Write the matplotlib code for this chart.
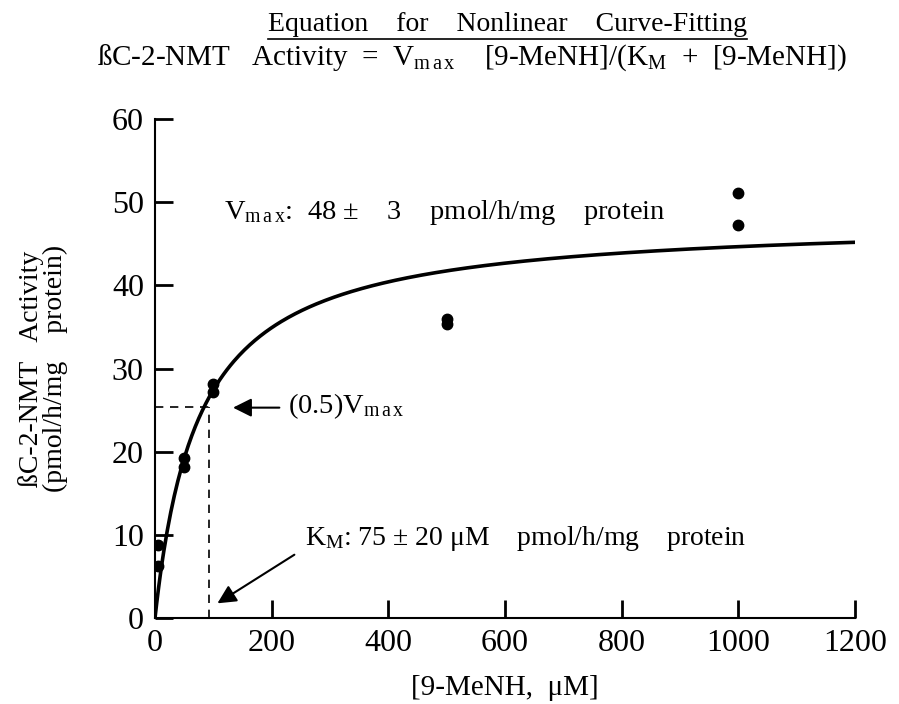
import numpy as np
import matplotlib
matplotlib.use("Agg")
import matplotlib.pyplot as plt

plt.rcParams['font.family'] = ['Liberation Serif', 'DejaVu Serif']
plt.rcParams['mathtext.fontset'] = 'custom'
plt.rcParams['mathtext.rm'] = 'Liberation Serif'
plt.rcParams['mathtext.it'] = 'Liberation Serif'

# measured points
conc = [5, 5, 50, 50, 100, 100, 500, 500, 1000, 1000]
activity = [8.8, 6.3, 19.2, 18.2, 28.2, 27.2, 36.0, 35.3, 51.1, 47.2]

# fit parameters (from the text on the chart)
vmax = 48
km = 75
half_x = 93
half_y = 25.4

x_ticks = [0, 200, 400, 600, 800, 1000, 1200]
y_ticks = [0, 10, 20, 30, 40, 50, 60]

fig = plt.figure(figsize=(8.99, 7.04), dpi=100)
ax = fig.add_axes([0.1724, 0.122, 0.7786, 0.709])

xs = np.linspace(0, 1200, 400)
ax.plot(xs, vmax * xs / (km + xs), color='black', linewidth=2.6, zorder=3)
ax.plot(conc, activity, 'o', color='black', markersize=7.5, zorder=4)

# dashed guides to the half-maximum point
ax.plot([0, half_x], [half_y, half_y], color='black', linestyle=(0, (5, 4)), linewidth=1.2)
ax.plot([half_x, half_x], [0, half_y], color='black', linestyle=(0, (5, 4)), linewidth=1.2)

ax.set_xlim(0, 1200)
ax.set_ylim(0, 60)
ax.set_xticks(x_ticks)
ax.set_yticks(y_ticks)
ax.tick_params(direction='in', length=13, width=2, labelsize=23, pad=8)
for side in ['top', 'right']:
    ax.spines[side].set_visible(False)
for side in ['left', 'bottom']:
    ax.spines[side].set_linewidth(1.5)

ax.set_xlabel('[9-MeNH,  μM]', fontsize=21, labelpad=12)
ax.set_ylabel('ßC-2-NMT   Activity\n(pmol/h/mg    protein)', fontsize=20,
              linespacing=0.95)
ax.yaxis.set_label_coords(-0.124, 0.5)

ax.text(118, 48.8, r'V$_{\rm m\,a\,x}$:  48 ±    3    pmol/h/mg    protein',
        fontsize=20.5, va='center')
ax.annotate('', xy=(129, 25.3), xytext=(218, 25.3),
            arrowprops=dict(arrowstyle='-|>', color='black', lw=1.5,
                            mutation_scale=28))
ax.text(228, 25.5, r'(0.5)V$_{\rm m\,a\,x}$', fontsize=20.5, va='center')

ax.annotate('', xy=(103, 1.6), xytext=(243, 7.8),
            arrowprops=dict(arrowstyle='-|>', color='black', lw=1.5,
                            mutation_scale=28))
ax.text(258, 9.6, r'K$_{\rm M}$: 75 ± 20 μM    pmol/h/mg    protein',
        fontsize=20, va='center')

t1 = fig.text(0.565, 0.965, 'Equation    for    Nonlinear    Curve-Fitting',
              fontsize=20, ha='center', va='center')
fig.text(0.525, 0.918,
         r'ßC-2-NMT   Activity  =  V$_{\rm m\,a\,x}$    [9-MeNH]/(K$_{\rm M}$  +  [9-MeNH])',
         fontsize=21, ha='center', va='center')

# underline for the heading
fig.canvas.draw()
bb = t1.get_window_extent().transformed(fig.transFigure.inverted())
fig.add_artist(plt.Line2D([bb.x0, bb.x1], [bb.y0 - 0.002, bb.y0 - 0.002],
                          color='black', linewidth=1.2))

fig.savefig('out.png', dpi=100)
